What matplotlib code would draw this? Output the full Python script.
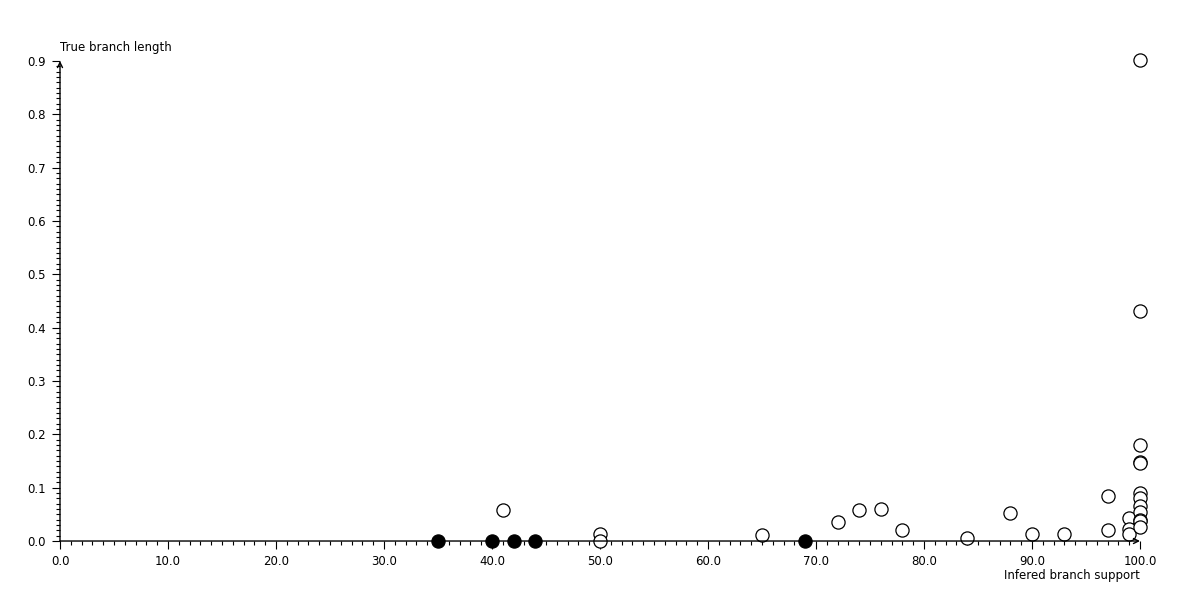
import numpy as np
import matplotlib.pyplot as plt
from matplotlib.ticker import MultipleLocator, FormatStrFormatter

# branches that were found (open) and missed (filled)
found_support = [41, 50, 50, 65, 72, 74, 76, 78, 84, 88, 90, 93, 97, 97,
                 99, 99, 99,
                 100, 100, 100, 100, 100, 100, 100, 100, 100, 100, 100, 100]
found_length = [0.058, 0.013, 0.0, 0.011, 0.036, 0.058, 0.060, 0.021, 0.006, 0.053, 0.013, 0.013, 0.084, 0.021,
                0.043, 0.022, 0.013,
                0.902, 0.432, 0.180, 0.149, 0.146, 0.090, 0.080, 0.065, 0.055, 0.040, 0.038, 0.027]

missed_support = [35, 40, 42, 44, 69]
missed_length = [0.0, 0.0, 0.0, 0.0, 0.0]

fig = plt.figure(figsize=(12, 6), dpi=100)
ax = fig.add_axes([0.05, 0.0983, 0.9, 0.8])

ax.scatter(found_support, found_length, s=90, facecolors="white", edgecolors="black",
           linewidths=0.9, clip_on=False, zorder=3)
ax.scatter(missed_support, missed_length, s=90, facecolors="black", edgecolors="black",
           linewidths=0.9, clip_on=False, zorder=4)

ax.set_xlim(0, 100)
ax.set_ylim(0, 0.9)

for s in ax.spines.values():
    s.set_visible(False)

# axis lines with open arrow heads
ax.annotate("", xy=(1.0, 0), xytext=(0, 0), xycoords="axes fraction",
            arrowprops=dict(arrowstyle="->", lw=1.0, color="black",
                            shrinkA=0, shrinkB=0, mutation_scale=9))
ax.annotate("", xy=(0, 1.0), xytext=(0, 0), xycoords="axes fraction",
            arrowprops=dict(arrowstyle="->", lw=1.0, color="black",
                            shrinkA=0, shrinkB=0, mutation_scale=9))

ax.xaxis.set_major_locator(MultipleLocator(10))
ax.xaxis.set_minor_locator(MultipleLocator(1))
ax.yaxis.set_major_locator(MultipleLocator(0.1))
ax.yaxis.set_minor_locator(MultipleLocator(0.01))
ax.xaxis.set_major_formatter(FormatStrFormatter("%.1f"))
ax.yaxis.set_major_formatter(FormatStrFormatter("%.1f"))

ax.tick_params(which="major", direction="out", length=6, width=0.8, labelsize=8.5, pad=4)
ax.tick_params(which="minor", direction="out", length=3, width=0.8)

fig.text(0.05, 0.91, "True branch length", fontsize=8.5, ha="left", va="bottom")
fig.text(0.95, 0.03, "Infered branch support", fontsize=8.5, ha="right", va="bottom")

fig.savefig("out.png", dpi=100)
